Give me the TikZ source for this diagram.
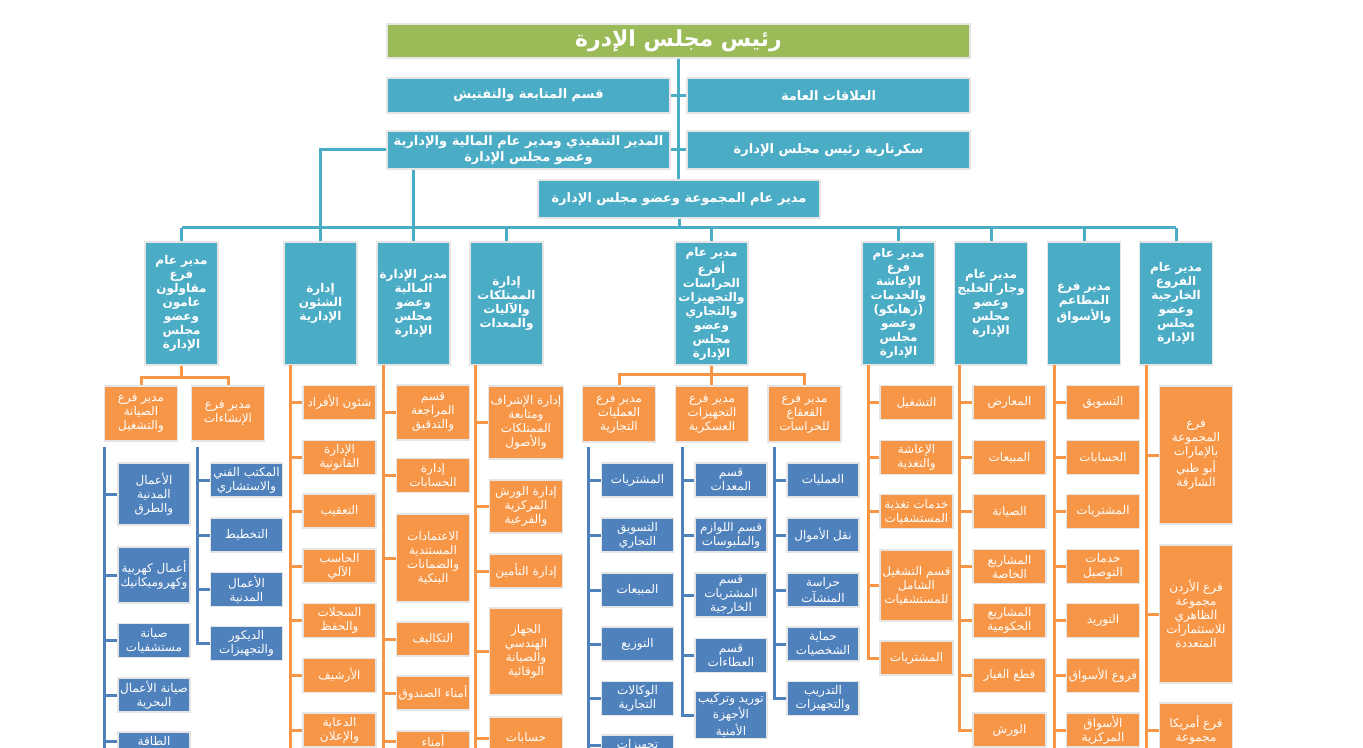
\documentclass[tikz,border=0pt]{standalone}
\usepackage{fontspec}
\newfontfamily\arabicfont[Script=Arabic]{DejaVu Sans}
\TeXXeTstate=1
\newcommand{\ar}[1]{\beginR #1\endR}
\definecolor{grn}{HTML}{9BBB59}
\definecolor{tealb}{HTML}{4BACC6}
\definecolor{orng}{HTML}{F79646}
\definecolor{blu}{HTML}{4F81BD}

\begin{document}
\begin{tikzpicture}[x=0.5pt, y=-0.5pt,
    box/.style={align=center, text=white, inner sep=1pt, draw=gray!20, line width=0.6pt,
      font=\arabicfont\fontsize{6}{7}\selectfont},
    topbox/.style={box, fill=tealb, minimum width=141.5pt, minimum height=17.5pt,
      font=\arabicfont\bfseries\fontsize{6.5}{8}\selectfont},
    headbox/.style={box, fill=tealb, minimum width=36.5pt, minimum height=61.5pt,
      font=\arabicfont\bfseries\fontsize{6}{7}\selectfont},
    orangebox/.style={box, fill=orng, minimum width=36.5pt, minimum height=17pt},
    bluebox/.style={box, fill=blu, minimum width=36pt, minimum height=17pt},
    tline/.style={draw=tealb, line width=1.5pt},
    oline/.style={draw=orng, line width=1.5pt},
    bline/.style={draw=blu, line width=1.5pt}]
  \useasboundingbox (0,0) rectangle (1363,748);
  \clip (0,0) rectangle (1363,748);
  \coordinate (bot) at (0,760);

  % top of the chart
  \node[box, fill=grn, minimum width=291.5pt, minimum height=17pt,
    font=\arabicfont\bfseries\fontsize{11}{13}\selectfont] (title) at (678.5,41) {\ar{رئيس مجلس الإدرة}};
  \node[topbox] (follow) at (528.5,95.5) {\ar{قسم المتابعة والتفتيش}};
  \node[topbox] (relations) at (828.5,95.5) {\ar{العلاقات العامة}};
  \node[topbox, minimum height=19pt] (exec) at (528.5,150) {\ar{المدير التنفيذي ومدير عام المالية والإدارية}\\\ar{وعضو مجلس الإدارة}};
  \node[topbox, minimum height=19pt] (secr) at (828.5,150) {\ar{سكرتارية رئيس مجلس الإدارة}};
  \node[topbox, minimum width=141pt, minimum height=19pt] (group) at (679,199) {\ar{مدير عام المجموعة وعضو مجلس الإدارة}};

  \coordinate (busL) at (181.5,228);
  \coordinate (busR) at (1176,228);
  \draw[tline] (title.south) -- (title.south |- group.north);
  \draw[tline] (follow.east) -- (relations.west);
  \draw[tline] (exec.east) -- (secr.west);
  \draw[tline] (group.south) -- (group.south |- busL);
  \draw[tline] (busL) -- (busR);

  % heads of the branches
  \node[headbox] (h1) at (181.5,303.5) {\ar{مدير عام}\\\ar{فرع}\\\ar{مقاولون}\\\ar{عامون}\\\ar{وعضو}\\\ar{مجلس}\\\ar{الإدارة}};
  \node[headbox] (h2) at (320.5,303.5) {\ar{إدارة}\\\ar{الشئون}\\\ar{الإدارية}};
  \node[headbox] (h3) at (413.5,303.5) {\ar{مدير الإدارة}\\\ar{المالية}\\\ar{وعضو}\\\ar{مجلس}\\\ar{الإدارة}};
  \node[headbox] (h4) at (506.5,303.5) {\ar{إدارة}\\\ar{الممتلكات}\\\ar{والآليات}\\\ar{والمعدات}};
  \node[headbox] (h5) at (711.5,303.5) {\ar{مدير عام}\\\ar{أفرع}\\\ar{الحراسات}\\\ar{والتجهيزات}\\\ar{والتجاري}\\\ar{وعضو}\\\ar{مجلس}\\\ar{الإدارة}};
  \node[headbox] (h6) at (898.5,303.5) {\ar{مدير عام}\\\ar{فرع}\\\ar{الإعاشة}\\\ar{والخدمات}\\\ar{(زهابكو)}\\\ar{وعضو}\\\ar{مجلس}\\\ar{الإدارة}};
  \node[headbox] (h7) at (991,303.5) {\ar{مدير عام}\\\ar{وجار الخليج}\\\ar{وعضو}\\\ar{مجلس}\\\ar{الإدارة}};
  \node[headbox] (h8) at (1084,303.5) {\ar{مدير فرع}\\\ar{المطاعم}\\\ar{والأسواق}};
  \node[headbox] (h9) at (1176,303.5) {\ar{مدير عام}\\\ar{الفروع}\\\ar{الخارجية}\\\ar{وعضو}\\\ar{مجلس}\\\ar{الإدارة}};

  \foreach \h in {h1,h2,h3,h4,h5,h6,h7,h8,h9}
    \draw[tline] (\h.north) -- (\h.north |- busL);
  \draw[tline] (exec.west) -| (h2.north);
  \draw[tline] (exec.south -| h3.north) -- (h3.north);

  % branch 1
  \node[orangebox, minimum height=27.5pt] (m1a) at (141,413.5) {\ar{مدير فرع}\\\ar{الصيانة}\\\ar{والتشغيل}};
  \node[orangebox, minimum height=27.5pt] (m1b) at (228,413.5) {\ar{مدير فرع}\\\ar{الإنشاءات}};
  \draw[oline] (h1.south) -- ++(0,13);
  \draw[oline] (m1a.north) -- ++(0,-8) -| (m1b.north);
  \node[bluebox, minimum height=31pt] (k1a) at (154,494) {\ar{الأعمال}\\\ar{المدنية}\\\ar{والطرق}};
  \node[bluebox, minimum height=28pt] (k1b) at (154,575) {\ar{أعمال كهربية}\\\ar{وكهروميكانيك}};
  \node[bluebox] (k1c) at (154,640.5) {\ar{صيانة}\\\ar{مستشفيات}};
  \node[bluebox] (k1d) at (154,695) {\ar{صيانة الأعمال}\\\ar{البحرية}};
  \node[bluebox, minimum height=9pt] (k1e) at (154,741) {\ar{الطاقة}};
  \node[bluebox] (k1f) at (246.5,480) {\ar{المكتب الفني}\\\ar{والاستشاري}};
  \node[bluebox] (k1g) at (246.5,535) {\ar{التخطيط}};
  \node[bluebox] (k1h) at (246.5,589.5) {\ar{الأعمال}\\\ar{المدنية}};
  \node[bluebox] (k1i) at (246.5,643.5) {\ar{الديكور}\\\ar{والتجهيزات}};
  \coordinate (s1a) at (104,447);
  \coordinate (s1b) at (197,447);
  \draw[bline] (s1a) -- (s1a |- bot);
  \draw[bline] (s1b) |- (k1i.west);
  \foreach \n in {k1a,k1b,k1c,k1d,k1e}
    \draw[bline] (\n.west) -- (\n.west -| s1a);
  \foreach \n in {k1f,k1g,k1h}
    \draw[bline] (\n.west) -- (\n.west -| s1b);

  % branch 2
  \node[orangebox] (k2a) at (339.5,402.5) {\ar{شئون الأفراد}};
  \node[orangebox] (k2b) at (339.5,457.5) {\ar{الإدارة}\\\ar{القانونية}};
  \node[orangebox] (k2c) at (339.5,511) {\ar{التعقيب}};
  \node[orangebox] (k2d) at (339.5,566) {\ar{الحاسب}\\\ar{الآلي}};
  \node[orangebox] (k2e) at (339.5,620.5) {\ar{السجلات}\\\ar{والحفظ}};
  \node[orangebox] (k2f) at (339.5,675.5) {\ar{الأرشيف}};
  \node[orangebox] (k2g) at (339.5,730) {\ar{الدعاية}\\\ar{والإعلان}};
  \coordinate (s2) at (290,365);
  \draw[oline] (s2) -- (s2 |- bot);
  \foreach \n in {k2a,k2b,k2c,k2d,k2e,k2f,k2g}
    \draw[oline] (\n.west) -- (\n.west -| s2);

  % branch 3
  \node[orangebox, minimum height=27.5pt] (k3a) at (433,412.5) {\ar{قسم}\\\ar{المراجعة}\\\ar{والتدقيق}};
  \node[orangebox] (k3b) at (433,475.5) {\ar{إدارة}\\\ar{الحسابات}};
  \node[orangebox, minimum height=44pt] (k3c) at (433,558) {\ar{الاعتمادات}\\\ar{المستندية}\\\ar{والضمانات}\\\ar{البنكية}};
  \node[orangebox] (k3d) at (433,639) {\ar{التكاليف}};
  \node[orangebox] (k3e) at (433,693) {\ar{أمناء الصندوق}};
  \node[orangebox, minimum height=10pt] (k3f) at (433,741) {\ar{أمناء}};
  \coordinate (s3) at (383,365);
  \draw[oline] (s3) -- (s3 |- bot);
  \foreach \n in {k3a,k3b,k3c,k3d,k3e,k3f}
    \draw[oline] (\n.west) -- (\n.west -| s3);

  % branch 4
  \node[orangebox, minimum height=36.5pt] (k4a) at (526,422.5) {\ar{إدارة الإشراف}\\\ar{ومتابعة}\\\ar{الممتلكات}\\\ar{والأصول}};
  \node[orangebox, minimum height=26.5pt] (k4b) at (526,506.5) {\ar{إدارة الورش}\\\ar{المركزية}\\\ar{والفرعية}};
  \node[orangebox] (k4c) at (526,571) {\ar{إدارة التأمين}};
  \node[orangebox, minimum height=43.5pt] (k4d) at (526,651.5) {\ar{الجهاز}\\\ar{الهندسي}\\\ar{والصيانة}\\\ar{الوقائية}};
  \node[orangebox, minimum height=21pt] (k4e) at (526,738) {\ar{حسابات}};
  \coordinate (s4) at (475,365);
  \draw[oline] (s4) -- (s4 |- bot);
  \foreach \n in {k4a,k4b,k4c,k4d,k4e}
    \draw[oline] (\n.west) -- (\n.west -| s4);

  % branch 5
  \node[orangebox, minimum height=28pt] (m5a) at (619,414) {\ar{مدير فرع}\\\ar{العمليات}\\\ar{التجارية}};
  \node[orangebox, minimum height=28pt] (m5b) at (712,414) {\ar{مدير فرع}\\\ar{التجهيزات}\\\ar{العسكرية}};
  \node[orangebox, minimum height=28pt] (m5c) at (804.5,414) {\ar{مدير فرع}\\\ar{القعقاع}\\\ar{للحراسات}};
  \draw[oline] (h5.south) -- (h5.south |- m5b.north);
  \draw[oline] (m5a.north) -- ++(0,-11) -| (m5c.north);
  \node[bluebox] (k5a) at (637.5,480) {\ar{المشتريات}};
  \node[bluebox] (k5b) at (637.5,535) {\ar{التسويق}\\\ar{التجاري}};
  \node[bluebox] (k5c) at (637.5,590) {\ar{المبيعات}};
  \node[bluebox] (k5d) at (637.5,644) {\ar{التوزيع}};
  \node[bluebox] (k5e) at (637.5,698.5) {\ar{الوكالات}\\\ar{التجارية}};
  \node[bluebox, minimum height=10pt] (k5f) at (637.5,745) {\ar{تجهيزات}};
  \node[bluebox] (k5g) at (731,480) {\ar{قسم}\\\ar{المعدات}};
  \node[bluebox] (k5h) at (731,535) {\ar{قسم اللوازم}\\\ar{والملبوسات}};
  \node[bluebox, minimum height=22pt] (k5i) at (731,595) {\ar{قسم}\\\ar{المشتريات}\\\ar{الخارجية}};
  \node[bluebox] (k5j) at (731,655.5) {\ar{قسم}\\\ar{العطاءات}};
  \node[bluebox, minimum height=23pt] (k5k) at (731,715) {\ar{توريد وتركيب}\\\ar{الأجهزة}\\\ar{الأمنية}};
  \node[bluebox] (k5l) at (823,480) {\ar{العمليات}};
  \node[bluebox] (k5m) at (823,535) {\ar{نقل الأموال}};
  \node[bluebox] (k5n) at (823,590) {\ar{حراسة}\\\ar{المنشآت}};
  \node[bluebox] (k5o) at (823,644) {\ar{حماية}\\\ar{الشخصيات}};
  \node[bluebox] (k5p) at (823,698.5) {\ar{التدريب}\\\ar{والتجهيزات}};
  \coordinate (s5a) at (588,447);
  \coordinate (s5b) at (682,447);
  \coordinate (s5c) at (774,447);
  \draw[bline] (s5a) -- (s5a |- bot);
  \draw[bline] (s5b) |- (k5k.west);
  \draw[bline] (s5c) |- (k5p.west);
  \foreach \n in {k5a,k5b,k5c,k5d,k5e,k5f}
    \draw[bline] (\n.west) -- (\n.west -| s5a);
  \foreach \n in {k5g,k5h,k5i,k5j}
    \draw[bline] (\n.west) -- (\n.west -| s5b);
  \foreach \n in {k5l,k5m,k5n,k5o}
    \draw[bline] (\n.west) -- (\n.west -| s5c);

  % branch 6
  \node[orangebox] (k6a) at (916.5,402.5) {\ar{التشغيل}};
  \node[orangebox] (k6b) at (916.5,457.5) {\ar{الإعاشة}\\\ar{والتغذية}};
  \node[orangebox] (k6c) at (916.5,511.5) {\ar{خدمات تغذية}\\\ar{المستشفيات}};
  \node[orangebox, minimum height=35.5pt] (k6d) at (916.5,585.5) {\ar{قسم التشغيل}\\\ar{الشامل}\\\ar{للمستشفيات}};
  \node[orangebox] (k6e) at (916.5,658) {\ar{المشتريات}};
  \coordinate (s6) at (868,365);
  \draw[oline] (s6) |- (k6e.west);
  \foreach \n in {k6a,k6b,k6c,k6d}
    \draw[oline] (\n.west) -- (\n.west -| s6);

  % branch 7
  \node[orangebox] (k7a) at (1009.5,402.5) {\ar{المعارض}};
  \node[orangebox] (k7b) at (1009.5,457.5) {\ar{المبيعات}};
  \node[orangebox] (k7c) at (1009.5,511.5) {\ar{الصيانة}};
  \node[orangebox] (k7d) at (1009.5,566.5) {\ar{المشاريع}\\\ar{الخاصة}};
  \node[orangebox] (k7e) at (1009.5,620.5) {\ar{المشاريع}\\\ar{الحكومية}};
  \node[orangebox] (k7f) at (1009.5,675.5) {\ar{قطع الغيار}};
  \node[orangebox] (k7g) at (1009.5,730) {\ar{الورش}};
  \coordinate (s7) at (959,365);
  \draw[oline] (s7) |- (k7g.west);
  \foreach \n in {k7a,k7b,k7c,k7d,k7e,k7f}
    \draw[oline] (\n.west) -- (\n.west -| s7);

  % branch 8
  \node[orangebox] (k8a) at (1103,402.5) {\ar{التسويق}};
  \node[orangebox] (k8b) at (1103,457.5) {\ar{الحسابات}};
  \node[orangebox] (k8c) at (1103,511.5) {\ar{المشتريات}};
  \node[orangebox] (k8d) at (1103,566.5) {\ar{خدمات}\\\ar{التوصيل}};
  \node[orangebox] (k8e) at (1103,620.5) {\ar{التوريد}};
  \node[orangebox] (k8f) at (1103,675.5) {\ar{فروع الأسواق}};
  \node[orangebox] (k8g) at (1103,730) {\ar{الأسواق}\\\ar{المركزية}};
  \coordinate (s8) at (1054,365);
  \draw[oline] (s8) -- (s8 |- bot);
  \foreach \n in {k8a,k8b,k8c,k8d,k8e,k8f,k8g}
    \draw[oline] (\n.west) -- (\n.west -| s8);

  % branch 9
  \node[orangebox, minimum height=69pt] (k9a) at (1196,455) {\ar{فرع}\\\ar{المجموعة}\\\ar{بالإمارات}\\\ar{أبو ظبي}\\\ar{الشارقة}};
  \node[orangebox, minimum height=69pt] (k9b) at (1196,614) {\ar{فرع الأردن}\\\ar{مجموعة}\\\ar{الظاهري}\\\ar{للاستثمارات}\\\ar{المتعددة}};
  \node[orangebox, minimum height=27pt] (k9c) at (1196,730) {\ar{فرع أمريكا}\\\ar{مجموعة}};
  \coordinate (s9) at (1146,365);
  \draw[oline] (s9) -- (s9 |- bot);
  \foreach \n in {k9a,k9b,k9c}
    \draw[oline] (\n.west) -- (\n.west -| s9);
\end{tikzpicture}
\end{document}
